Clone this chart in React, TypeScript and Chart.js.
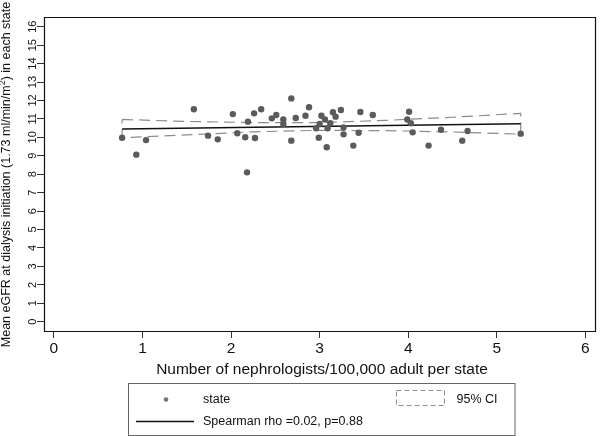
import { useEffect, useRef } from "react";
import { Chart, registerables } from "chart.js";

Chart.register(...registerables);

// ---- data ----
const stateX = [
  0.77, 0.93, 1.04, 1.58, 1.74, 1.85, 2.02, 2.07, 2.16, 2.18,
  2.19, 2.26, 2.27, 2.34, 2.46, 2.51, 2.59, 2.59, 2.68, 2.68,
  2.73, 2.84, 2.88, 2.96, 2.99, 3.0, 3.02, 3.06, 3.08, 3.09,
  3.12, 3.15, 3.18, 3.24, 3.27, 3.27, 3.38, 3.44, 3.46, 3.6,
  3.99, 4.01, 4.03, 4.05, 4.23, 4.37, 4.61, 4.67, 5.27,
];
const stateY = [
  9.98, 9.06, 9.85, 11.52, 10.09, 9.89, 11.26, 10.22, 10.0, 8.1,
  10.85, 11.3, 9.96, 11.52, 11.03, 11.21, 10.72, 10.97, 12.11, 9.82,
  11.05, 11.17, 11.63, 10.49, 9.98, 10.72, 11.17, 10.97, 9.46, 10.49,
  10.76, 11.36, 11.12, 11.48, 10.54, 10.16, 9.55, 10.25, 11.37, 11.21,
  10.97, 11.39, 10.76, 10.27, 9.55, 10.41, 9.82, 10.34, 10.2,
];
const fitX = [0.77, 5.27];
const fitY = [10.45, 10.74];
const ciX = [0.77, 1.5, 2.25, 3.0, 3.75, 4.5, 5.27];
const ciUpper = [10.97, 10.86, 10.8, 10.8, 10.92, 11.09, 11.3];
const ciLower = [9.98, 10.13, 10.3, 10.38, 10.36, 10.29, 10.17];

const xTicks = [0, 1, 2, 3, 4, 5, 6];
const yTicks = [0, 1, 2, 3, 4, 5, 6, 7, 8, 9, 10, 11, 12, 13, 14, 15, 16];

const xTitle = "Number of nephrologists/100,000 adult per state";
const yTitleMain = "Mean eGFR at dialysis initiation (1.73 ml/min/m";
const yTitleSup = "2";
const yTitleEnd = ") in each state";
const legendState = "state";
const legendCI = "95% CI";
const legendFit = "Spearman rho =0.02, p=0.88";

const FONT = "'Liberation Sans', Arial, Helvetica, sans-serif";

const decor = {
  id: "decor",
  afterDraw(chart: any) {
    const { ctx, chartArea: a, scales } = chart;
    const ys = scales.y;
    ctx.save();

    // plot frame
    ctx.strokeStyle = "#111";
    ctx.lineWidth = 1.2;
    ctx.beginPath();
    ctx.rect(a.left + 0.5, a.top + 0.5, a.right - a.left - 1, a.bottom - a.top - 1);
    ctx.stroke();

    // y tick labels (vertical)
    ctx.fillStyle = "#111";
    ctx.font = `11px ${FONT}`;
    ctx.textAlign = "center";
    ctx.textBaseline = "alphabetic";
    yTicks.forEach((v) => {
      const py = ys.getPixelForValue(v);
      ctx.save();
      ctx.translate(36, py);
      ctx.rotate(-Math.PI / 2);
      ctx.fillText(String(v), 0, 0);
      ctx.restore();
    });

    // y title with superscript
    ctx.save();
    const cy = (a.top + a.bottom) / 2;
    ctx.translate(9.5, cy);
    ctx.rotate(-Math.PI / 2);
    const mainFont = `12.5px ${FONT}`;
    const supFont = `9px ${FONT}`;
    ctx.font = mainFont;
    const w1 = ctx.measureText(yTitleMain).width;
    const w3 = ctx.measureText(yTitleEnd).width;
    ctx.font = supFont;
    const w2 = ctx.measureText(yTitleSup).width;
    const total = w1 + w2 + w3;
    let x0 = -total / 2;
    ctx.textAlign = "left";
    ctx.font = mainFont;
    ctx.fillText(yTitleMain, x0, 0);
    x0 += w1;
    ctx.font = supFont;
    ctx.fillText(yTitleSup, x0, -5);
    x0 += w2;
    ctx.font = mainFont;
    ctx.fillText(yTitleEnd, x0, 0);
    ctx.restore();

    // x title
    ctx.font = `15.5px ${FONT}`;
    ctx.textAlign = "center";
    ctx.textBaseline = "alphabetic";
    ctx.fillText(xTitle, 322, 373.5);

    // legend box
    ctx.strokeStyle = "#666";
    ctx.lineWidth = 1;
    ctx.strokeRect(128.5, 383.5, 386.5, 52);

    // state marker
    ctx.fillStyle = "#777";
    ctx.beginPath();
    ctx.arc(166, 399.5, 2.3, 0, Math.PI * 2);
    ctx.fill();

    // CI marker (dashed rectangle)
    ctx.strokeStyle = "#8c8c8c";
    ctx.lineWidth = 1;
    ctx.setLineDash([5, 3]);
    ctx.strokeRect(396.5, 390.5, 48, 15);
    ctx.setLineDash([]);

    // fit marker
    ctx.strokeStyle = "#111";
    ctx.lineWidth = 1.5;
    ctx.beginPath();
    ctx.moveTo(136, 421.5);
    ctx.lineTo(194, 421.5);
    ctx.stroke();

    ctx.fillStyle = "#111";
    ctx.font = `12.5px ${FONT}`;
    ctx.textAlign = "left";
    ctx.textBaseline = "middle";
    ctx.fillText(legendState, 203, 399.5);
    ctx.fillText(legendCI, 456.5, 399.5);
    ctx.fillText(legendFit, 203, 421.5);

    ctx.restore();
  },
};

export default function App() {
  const ref = useRef<HTMLCanvasElement | null>(null);

  useEffect(() => {
    if (!ref.current) return;
    const points = stateX.map((x, i) => ({ x, y: stateY[i] }));
    const fit = fitX.map((x, i) => ({ x, y: fitY[i] }));
    const ciPoly = [
      ...ciX.map((x, i) => ({ x, y: ciUpper[i] })),
      ...ciX
        .map((x, i) => ({ x, y: ciLower[i] }))
        .reverse(),
      { x: ciX[0], y: ciUpper[0] },
    ];

    const chart = new Chart(ref.current, {
      type: "scatter",
      data: {
        datasets: [
          {
            label: legendCI,
            data: ciPoly,
            showLine: true,
            pointRadius: 0,
            borderColor: "#8c8c8c",
            borderWidth: 1.2,
            borderDash: [11, 6],
            fill: false,
            tension: 0,
            order: 3,
          },
          {
            label: legendFit,
            data: fit,
            showLine: true,
            pointRadius: 0,
            borderColor: "#111",
            borderWidth: 1.6,
            order: 2,
          },
          {
            label: legendState,
            data: points,
            pointRadius: 3.2,
            pointBackgroundColor: "#5b5b5b",
            pointBorderWidth: 0,
            borderWidth: 0,
            order: 1,
          },
        ],
      },
      options: {
        responsive: false,
        animation: false,
        layout: { padding: { top: 17, right: 0, left: 0, bottom: 0 } },
        plugins: {
          legend: { display: false },
          tooltip: { enabled: false },
        },
        scales: {
          x: {
            type: "linear",
            position: "bottom",
            min: -0.112,
            max: 6.12,
            afterBuildTicks: (s: any) => {
              s.ticks = xTicks.map((v) => ({ value: v }));
            },
            afterFit: (s: any) => {
              s.height = 104;
            },
            ticks: {
              color: "#111",
              padding: 1,
              maxRotation: 0,
              font: { family: FONT, size: 15.5 },
              callback: (v: any) => String(v),
            },
            grid: {
              drawOnChartArea: false,
              drawTicks: true,
              tickLength: 6,
              color: "#333",
              lineWidth: 1,
            },
            border: { display: false },
          },
          y: {
            type: "linear",
            position: "left",
            min: -0.559,
            max: 16.526,
            afterBuildTicks: (s: any) => {
              s.ticks = yTicks.map((v) => ({ value: v }));
            },
            afterFit: (s: any) => {
              s.width = 44;
            },
            ticks: { display: false },
            grid: {
              drawOnChartArea: false,
              drawTicks: true,
              tickLength: 7,
              color: "#333",
              lineWidth: 1,
            },
            border: { display: false },
          },
        },
      },
      plugins: [decor],
    });
    return () => chart.destroy();
  }, []);

  return (
    <div style={{ position: "absolute", left: 0, top: 0, width: 600, height: 436, background: "#fff" }}>
      <canvas ref={ref} width={600} height={436} style={{ display: "block" }} />
    </div>
  );
}
